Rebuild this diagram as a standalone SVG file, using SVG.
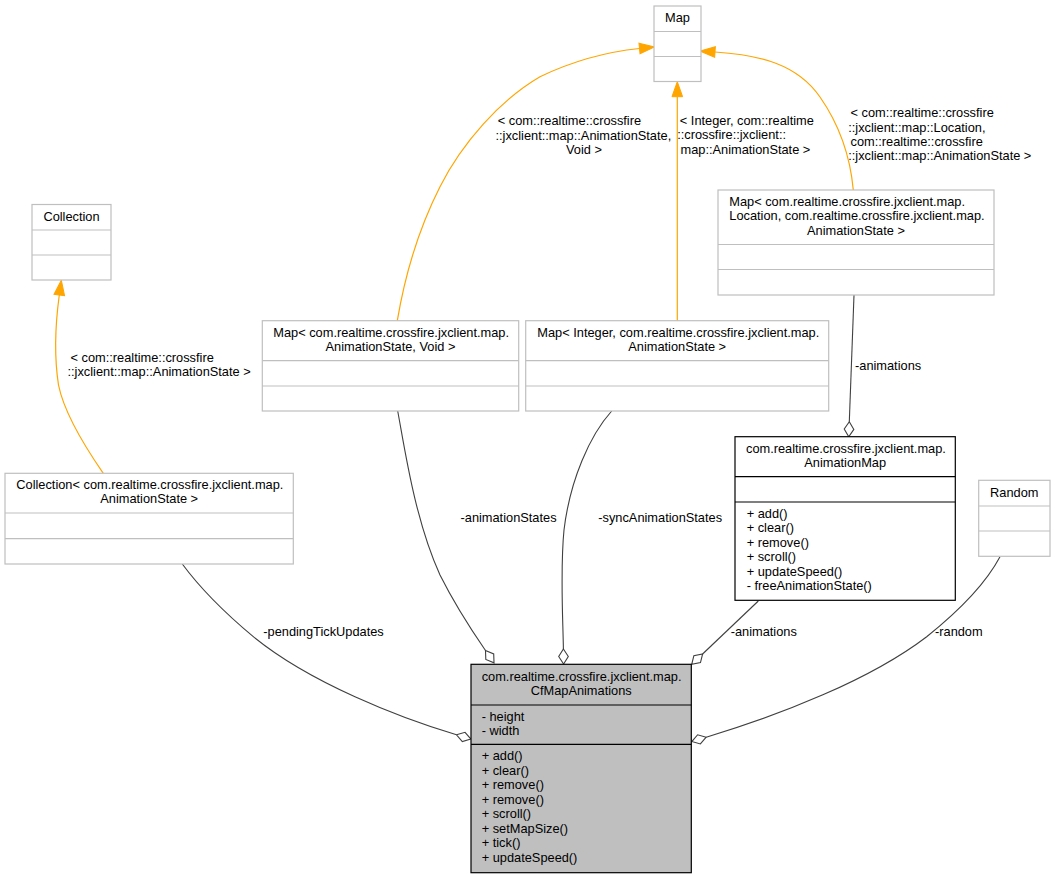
<svg xmlns="http://www.w3.org/2000/svg" width="1055" height="879" viewBox="0 0 1055 879">
<style>
.t{font-family:"Liberation Sans",Arial,sans-serif;font-size:12.8px;fill:#000}
.m{text-anchor:middle}
.g{fill:#fff;stroke:#bfbfbf;stroke-width:1.2}
.gl{stroke:#bfbfbf;stroke-width:1.2}
.d{fill:#fff;stroke:#000;stroke-width:1.2}
.cur{fill:#bfbfbf;stroke:#000;stroke-width:1.2}
.dl{stroke:#000;stroke-width:1.2}
.e{fill:none;stroke:#404040;stroke-width:1.1}
.i{fill:none;stroke:#ffa500;stroke-width:1.2}
</style>
<defs>
<marker id="tri" markerUnits="userSpaceOnUse" markerWidth="18" markerHeight="14" viewBox="-1 -7 18 14" refX="0" refY="0" orient="auto">
<polygon points="0,-5.3 15,0 0,5.3" fill="#ffa500" stroke="#ffa500"/>
</marker>
<marker id="dia" markerUnits="userSpaceOnUse" markerWidth="18" markerHeight="14" viewBox="-1 -7 18 14" refX="0" refY="0" orient="auto">
<polygon points="0,0 7.5,-4.8 15,0 7.5,4.8" fill="#fff" stroke="#404040" stroke-width="1.1"/>
</marker>
</defs>

<g id="connectors">
<path class="i" d="M103.3,473.3 C83,444 64,412 58.5,385 C54,356 55.5,323 59.3,295" marker-end="url(#tri)"/>
<path class="i" d="M397.3,320.7 C405,275 418,230 440,186.7 C462,143.4 500,100 540,76.7 C575,60 605,52 639.5,48.5" marker-end="url(#tri)"/>
<path class="i" d="M677.3,320.7 L677.3,96.7" marker-end="url(#tri)"/>
<path class="i" d="M853.3,190 C851,165 843,130 820,97 C797,64 760,55 715,52" marker-end="url(#tri)"/>
<path class="e" d="M854,295 L849.3,421.7" marker-end="url(#dia)"/>
<path class="e" d="M182.3,564 C200,588 225,613 253.3,636.7 C310,683 400,718 456.5,734.8" marker-end="url(#dia)"/>
<path class="e" d="M397.7,411 C405,450 415,520 440,575 C455,605 470,628 485.5,650.5" marker-end="url(#dia)"/>
<path class="e" d="M611.7,411 C590,435 570,480 564,530 C560,570 563,620 563.4,649" marker-end="url(#dia)"/>
<path class="e" d="M758.3,601 L702.6,654" marker-end="url(#dia)"/>
<path class="e" d="M1000,556.7 C985,585 960,610 926.7,636.7 C870,680 780,715 706.2,737.2" marker-end="url(#dia)"/>
<text class="t" x="70.5" y="362">&lt; com::realtime::crossfire</text>
<text class="t" x="67.5" y="376.4">::jxclient::map::AnimationState &gt;</text>
<text class="t" x="497.8" y="125.2">&lt; com::realtime::crossfire</text>
<text class="t" x="495.5" y="139.6">::jxclient::map::AnimationState,</text>
<text class="t m" x="584" y="154">Void &gt;</text>
<text class="t" x="679.8" y="124.7">&lt; Integer, com::realtime</text>
<text class="t" x="677.2" y="139.1">::crossfire::jxclient::</text>
<text class="t" x="680.5" y="153.5">map::AnimationState &gt;</text>
<text class="t" x="850.5" y="117.2">&lt; com::realtime::crossfire</text>
<text class="t" x="848.2" y="131.6">::jxclient::map::Location,</text>
<text class="t" x="850.5" y="146">com::realtime::crossfire</text>
<text class="t" x="848.2" y="160.4">::jxclient::map::AnimationState &gt;</text>
<text class="t" x="855" y="369.6">-animations</text>
<text class="t" x="263.3" y="635.7">-pendingTickUpdates</text>
<text class="t" x="460.5" y="521.7">-animationStates</text>
<text class="t" x="598.3" y="521.7">-syncAnimationStates</text>
<text class="t" x="730.7" y="635.7">-animations</text>
<text class="t" x="935" y="635.7">-random</text>
</g>

<g id="Map">
<rect class="g" x="654" y="6" width="47" height="75.5"/>
<line class="gl" x1="654" y1="31.5" x2="701" y2="31.5"/>
<line class="gl" x1="654" y1="56.5" x2="701" y2="56.5"/>
<text class="t m" x="677.5" y="22">Map</text>
</g>

<g id="Collection">
<rect class="g" x="32" y="204.5" width="79" height="75.5"/>
<line class="gl" x1="32" y1="230" x2="111" y2="230"/>
<line class="gl" x1="32" y1="255" x2="111" y2="255"/>
<text class="t m" x="71.5" y="220.8">Collection</text>
</g>

<g id="MapLocation">
<rect class="g" x="718" y="190" width="276" height="105"/>
<line class="gl" x1="718" y1="244.5" x2="994" y2="244.5"/>
<line class="gl" x1="718" y1="269.5" x2="994" y2="269.5"/>
<text class="t" x="729.3" y="206">Map&lt; com.realtime.crossfire.jxclient.map.</text>
<text class="t" x="729.3" y="220.4">Location, com.realtime.crossfire.jxclient.map.</text>
<text class="t m" x="856" y="234.8">AnimationState &gt;</text>
</g>

<g id="MapVoid">
<rect class="g" x="262.3" y="320.7" width="256.4" height="90.3"/>
<line class="gl" x1="262.3" y1="360.7" x2="518.7" y2="360.7"/>
<line class="gl" x1="262.3" y1="386" x2="518.7" y2="386"/>
<text class="t" x="273.3" y="336.5">Map&lt; com.realtime.crossfire.jxclient.map.</text>
<text class="t m" x="390.5" y="350.9">AnimationState, Void &gt;</text>
</g>

<g id="MapInteger">
<rect class="g" x="525.7" y="320.7" width="303" height="90.3"/>
<line class="gl" x1="525.7" y1="360.7" x2="828.7" y2="360.7"/>
<line class="gl" x1="525.7" y1="386" x2="828.7" y2="386"/>
<text class="t" x="537.3" y="336.5">Map&lt; Integer, com.realtime.crossfire.jxclient.map.</text>
<text class="t m" x="677.2" y="350.9">AnimationState &gt;</text>
</g>

<g id="CollectionAnimationState">
<rect class="g" x="5" y="473.3" width="288.3" height="90.7"/>
<line class="gl" x1="5" y1="513" x2="293.3" y2="513"/>
<line class="gl" x1="5" y1="538.7" x2="293.3" y2="538.7"/>
<text class="t" x="16.3" y="488.8">Collection&lt; com.realtime.crossfire.jxclient.map.</text>
<text class="t m" x="149.2" y="503.2">AnimationState &gt;</text>
</g>

<g id="AnimationMap">
<rect class="d" x="735" y="436.7" width="220.3" height="163.6"/>
<line class="dl" x1="735" y1="476.7" x2="955.3" y2="476.7"/>
<line class="dl" x1="735" y1="502" x2="955.3" y2="502"/>
<text class="t" x="746" y="452.7">com.realtime.crossfire.jxclient.map.</text>
<text class="t m" x="845.2" y="467.1">AnimationMap</text>
<text class="t" x="746.7" y="517.7">+ add()</text>
<text class="t" x="746.7" y="532.2">+ clear()</text>
<text class="t" x="746.7" y="546.7">+ remove()</text>
<text class="t" x="746.7" y="561.2">+ scroll()</text>
<text class="t" x="746.7" y="575.7">+ updateSpeed()</text>
<text class="t" x="746.7" y="590.2">- freeAnimationState()</text>
</g>

<g id="Random">
<rect class="g" x="978.7" y="480.3" width="71.3" height="76"/>
<line class="gl" x1="978.7" y1="506" x2="1050" y2="506"/>
<line class="gl" x1="978.7" y1="531" x2="1050" y2="531"/>
<text class="t m" x="1014.3" y="497">Random</text>
</g>

<g id="CfMapAnimations">
<rect class="cur" x="471" y="664.3" width="220.3" height="208.4"/>
<line class="dl" x1="471" y1="705" x2="691.3" y2="705"/>
<line class="dl" x1="471" y1="744.3" x2="691.3" y2="744.3"/>
<text class="t" x="481.7" y="680.5">com.realtime.crossfire.jxclient.map.</text>
<text class="t m" x="581.2" y="694.9">CfMapAnimations</text>
<text class="t" x="481.7" y="721">- height</text>
<text class="t" x="481.7" y="735.4">- width</text>
<text class="t" x="481.7" y="760.3">+ add()</text>
<text class="t" x="481.7" y="774.8">+ clear()</text>
<text class="t" x="481.7" y="789.3">+ remove()</text>
<text class="t" x="481.7" y="803.8">+ remove()</text>
<text class="t" x="481.7" y="818.3">+ scroll()</text>
<text class="t" x="481.7" y="832.8">+ setMapSize()</text>
<text class="t" x="481.7" y="847.3">+ tick()</text>
<text class="t" x="481.7" y="861.8">+ updateSpeed()</text>
</g>
</svg>
